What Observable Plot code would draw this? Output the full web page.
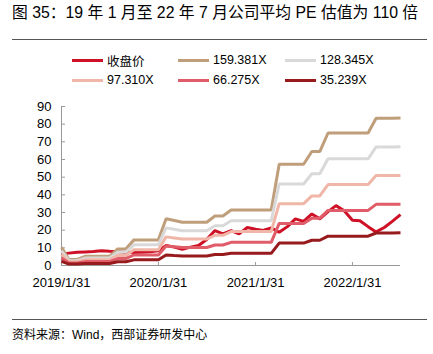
<!DOCTYPE html>
<html><head><meta charset="utf-8">
<script src="https://cdn.jsdelivr.net/npm/d3@7"></script>
<script src="https://cdn.jsdelivr.net/npm/@observablehq/plot@0.6"></script>
<style>
body{margin:0;width:433px;height:354px;position:relative;background:#fff;overflow:hidden;font-family:"Liberation Sans",Arial,"Noto Sans CJK SC",sans-serif;color:#000}
#title{position:absolute;left:12px;top:3px;font-size:15.8px;white-space:nowrap;line-height:20px}
.hr{position:absolute;left:12px;width:415px;height:0;border-top:1px solid #555}
.item{position:absolute;display:flex;align-items:center;height:16px;font-size:12.5px;white-space:nowrap}
.sw{width:31px;height:3px;margin-right:4px}
#chart{position:absolute;left:0;top:95px}
#source{position:absolute;left:12px;top:325px;font-size:12px;white-space:nowrap}
</style></head>
<body>
<div id="title">图 35：19 年 1 月至 22 年 7 月公司平均 PE 估值为 110 倍</div>
<div class="hr" style="top:39px"></div>
<div id="legend"></div>
<div id="chart"></div>
<div class="hr" style="top:319px"></div>
<div id="source">资料来源：Wind，西部证券研发中心</div>
<script>
// Data (monthly, month-end, 2019/1/31 – 2022/7/31)
const seriesNames = ["收盘价", "159.381X", "128.345X", "97.310X", "66.275X", "35.239X"];
const seriesColors = ["#CE1126", "#BF9E7B", "#D9D9D9", "#F0B6A8", "#E05C68", "#971A1D"];
const xTickLabels = ["2019/1/31", "2020/1/31", "2021/1/31", "2022/1/31"];
const yTicks = [0, 10, 20, 30, 40, 50, 60, 70, 80, 90];

const closePrice = [6.5,7.0,7.5,7.7,7.9,8.3,8.0,7.8,7.5,7.3,7.5,7.8,8.3,11.3,10.4,9.2,10.4,11.3,14.7,19.8,17.9,19.8,17.9,21.5,20.5,19.8,21.3,18.8,22.0,26.4,25.0,29.2,26.4,30.5,33.9,31.0,25.6,25.3,22.0,19.0,21.5,25.0,28.8];
const pe159 = [10.3,3.4,3.4,5.2,5.2,5.2,5.2,9.4,9.4,14.5,14.5,14.5,14.5,26.5,25.5,24.5,24.5,24.5,24.5,28.0,28.0,31.4,31.4,31.4,31.4,31.4,31.4,57.3,57.3,57.3,57.3,64.5,64.5,75.0,75.0,75.0,75.0,75.0,75.0,83.3,83.3,83.3,83.5];
const pe128 = [8.3,2.7,2.7,4.2,4.2,4.2,4.2,7.6,7.6,11.7,11.7,11.7,11.7,21.3,20.5,19.7,19.7,19.7,19.7,22.5,22.5,25.3,25.3,25.3,25.3,25.3,25.3,46.1,46.1,46.1,46.1,51.9,51.9,60.4,60.4,60.4,60.4,60.4,60.4,67.1,67.1,67.1,67.2];
const pe97 = [6.3,2.1,2.1,3.2,3.2,3.2,3.2,5.7,5.7,8.9,8.9,8.9,8.9,16.2,15.6,15.0,15.0,15.0,15.0,17.1,17.1,19.2,19.2,19.2,19.2,19.2,19.2,35.0,35.0,35.0,35.0,39.4,39.4,45.8,45.8,45.8,45.8,45.8,45.8,50.9,50.9,50.9,51.0];
const pe66 = [4.3,1.4,1.4,2.2,2.2,2.2,2.2,3.9,3.9,6.0,6.0,6.0,6.0,11.0,10.6,10.2,10.2,10.2,10.2,11.6,11.6,13.1,13.1,13.1,13.1,13.1,13.1,23.8,23.8,23.8,23.8,26.8,26.8,31.2,31.2,31.2,31.2,31.2,31.2,34.6,34.6,34.6,34.7];
const pe35 = [2.3,0.8,0.8,1.1,1.1,1.1,1.1,2.1,2.1,3.2,3.2,3.2,3.2,5.9,5.6,5.4,5.4,5.4,5.4,6.2,6.2,6.9,6.9,6.9,6.9,6.9,6.9,12.7,12.7,12.7,12.7,14.3,14.3,16.6,16.6,16.6,16.6,16.6,16.6,18.4,18.4,18.4,18.5];

// month-end dates
const months = d3.utcMonths(new Date(Date.UTC(2019,1,1)), new Date(Date.UTC(2022,7,2))).map(d => new Date(+d - 864e5));
const allSeries = [closePrice, pe159, pe128, pe97, pe66, pe35];
const rows = [];
allSeries.forEach((arr, s) => arr.forEach((v, i) => rows.push({series: seriesNames[s], date: months[i], value: v})));
const parseTick = s => { const [y,m,d] = s.split("/").map(Number); return new Date(Date.UTC(y, m-1, d)); };
const xTicks = xTickLabels.map(parseTick);

// legend
const legend = document.getElementById("legend");
const legendPos = [[72,52],[178,52],[285,52],[72,72],[178,72],[285,72]];
seriesNames.forEach((n, i) => {
  const it = document.createElement("div");
  it.className = "item";
  it.style.left = legendPos[i][0] + "px";
  it.style.top = legendPos[i][1] + "px";
  it.innerHTML = `<span class="sw" style="background:${seriesColors[i]}"></span><span>${n}</span>`;
  legend.appendChild(it);
});

const chart = Plot.plot({
  width: 433, height: 200,
  marginLeft: 61, marginRight: 33, marginTop: 11, marginBottom: 30,
  style: {fontFamily: "'Liberation Sans', Arial, sans-serif", fontSize: "13px", color: "#000", background: "transparent", overflow: "visible"},
  x: {type: "utc", domain: [months[0], months[months.length-1]]},
  y: {domain: [0, 90]},
  color: {domain: seriesNames, range: seriesColors},
  marks: [
    Plot.ruleY([0], {stroke: "#999"}),
    Plot.ruleX([months[0]], {stroke: "#999"}),
    Plot.axisY(yTicks, {tickSize: 4, dx: 4, tickPadding: 10, stroke: "#999", label: null}),
    Plot.axisX(xTicks, {tickSize: 3, dy: -3, tickPadding: 12, stroke: "#999", label: null, tickFormat: d => xTickLabels[xTicks.findIndex(t => +t === +d)]}),
    Plot.line(rows, {x: "date", y: "value", z: "series", stroke: "series", strokeWidth: 3, strokeLinejoin: "miter", strokeLinecap: "butt"})
  ]
});
document.getElementById("chart").appendChild(chart);
</script>
</body></html>
